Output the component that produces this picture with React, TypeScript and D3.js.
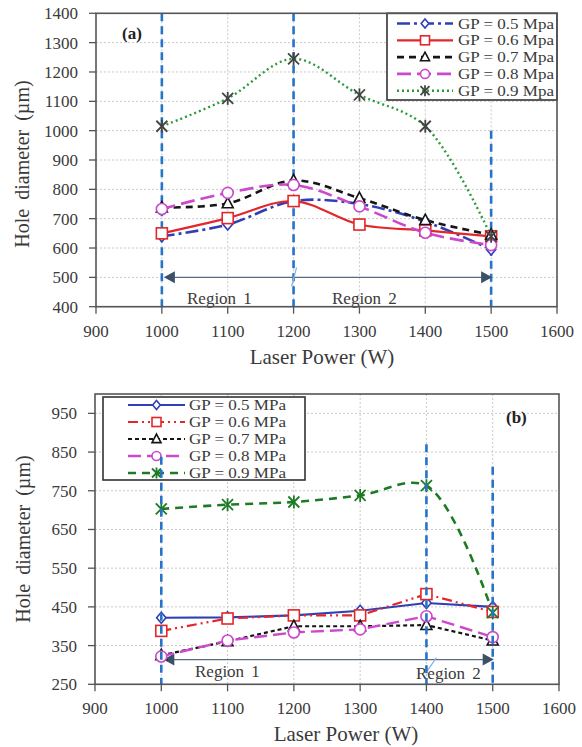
import React from 'react';
import * as d3 from 'd3';

// ---------- data ----------
const powers = [1000, 1100, 1200, 1300, 1400, 1500];
const xTicks = [900, 1000, 1100, 1200, 1300, 1400, 1500, 1600];
const aYTicks = [400, 500, 600, 700, 800, 900, 1000, 1100, 1200, 1300, 1400];
const bYTicks = [250, 350, 450, 550, 650, 750, 850, 950];

const aLabels = ['GP = 0.5 Mpa', 'GP = 0.6 Mpa', 'GP = 0.7 Mpa', 'GP = 0.8 Mpa', 'GP = 0.9 Mpa'];
const bLabels = ['GP = 0.5 MPa', 'GP = 0.6 MPa', 'GP = 0.7 MPa', 'GP = 0.8 MPa', 'GP = 0.9 MPa'];

const aGP05 = [640, 680, 760, 750, 690, 595];
const aGP06 = [650, 702, 760, 680, 660, 640];
const aGP07 = [738, 752, 830, 770, 695, 645];
const aGP08 = [733, 788, 815, 742, 652, 610];
const aGP09 = [1015, 1110, 1245, 1122, 1015, 640];

const bGP05 = [422, 423, 428, 440, 460, 450];
const bGP06 = [388, 420, 428, 428, 483, 437];
const bGP07 = [325, 361, 400, 400, 403, 363];
const bGP08 = [322, 363, 384, 392, 426, 372];
const bGP09 = [703, 714, 721, 738, 763, 435];

// region annotations: [power, top value]
const aRegionLines = [[1000, 1400], [1200, 1400], [1500, 1000]];
const bRegionLines = [[1000, 838], [1400, 870], [1500, 812]];
const aArrowValue = 500;
const bArrowValue = 314;
const regionNames = ['Region 1', 'Region 2'];
const axisXTitle = 'Laser Power (W)';
const axisYTitle = 'Hole diameter (\u00b5m)';

// ---------- styles ----------
const FONT = '"Liberation Serif", "Times New Roman", serif';
const TXT = '#3a3a3a';

type Style = { color: string; dash: string; width: number; marker: string; mcolor: string; smooth: boolean };

const aStyles: Style[] = [
  { color: '#3040b4', dash: '13,4,3,4', width: 2.6, marker: 'diamond', mcolor: '#3040b4', smooth: true },
  { color: '#e3262a', dash: '', width: 2.2, marker: 'square', mcolor: '#e3262a', smooth: true },
  { color: '#151515', dash: '7,5', width: 2.6, marker: 'triangle', mcolor: '#151515', smooth: true },
  { color: '#cc48cc', dash: '14,6', width: 2.6, marker: 'circle', mcolor: '#cc48cc', smooth: true },
  { color: '#2e9a3c', dash: '2,3', width: 2.4, marker: 'star', mcolor: '#444444', smooth: true },
];
const bStyles: Style[] = [
  { color: '#3040b4', dash: '', width: 2.2, marker: 'diamond', mcolor: '#3040b4', smooth: false },
  { color: '#e3262a', dash: '10,4,2,4,2,4', width: 2.2, marker: 'square', mcolor: '#e3262a', smooth: false },
  { color: '#151515', dash: '4,3', width: 2.2, marker: 'triangle', mcolor: '#151515', smooth: false },
  { color: '#cc48cc', dash: '13,6', width: 2.4, marker: 'circle', mcolor: '#cc48cc', smooth: false },
  { color: '#1e7b24', dash: '8,6', width: 2.6, marker: 'star', mcolor: '#1e7b24', smooth: true },
];

function Marker({ type, x, y, color, s = 5.5 }: { type: string; x: number; y: number; color: string; s?: number }) {
  const sw = 1.6;
  if (type === 'diamond')
    return <path d={`M${x},${y - s}L${x + s * 0.85},${y}L${x},${y + s}L${x - s * 0.85},${y}Z`} fill="white" stroke={color} strokeWidth={sw} />;
  if (type === 'square')
    return <rect x={x - s} y={y - s} width={2 * s} height={2 * s} fill="white" stroke={color} strokeWidth={sw} />;
  if (type === 'triangle')
    return <path d={`M${x},${y - s * 1.1}L${x + s},${y + s * 0.8}L${x - s},${y + s * 0.8}Z`} fill="white" stroke={color} strokeWidth={sw} />;
  if (type === 'circle')
    return <circle cx={x} cy={y} r={s} fill="white" stroke={color} strokeWidth={sw} />;
  // star: X plus vertical
  return (
    <g stroke={color} strokeWidth={1.8}>
      <line x1={x - s} y1={y - s} x2={x + s} y2={y + s} />
      <line x1={x - s} y1={y + s} x2={x + s} y2={y - s} />
      <line x1={x} y1={y - s - 1} x2={x} y2={y + s + 1} />
    </g>
  );
}

type PanelProps = {
  xr: [number, number];
  yd: [number, number];
  yr: [number, number];
  yTicks: number[];
  series: number[][];
  styles: Style[];
  labels: string[];
  legend: { x0: number; y0: number; x1: number; y1: number; row0: number; rowStep: number; lx0: number; lx1: number; tx: number; tw: number };
  regionLines: number[][];
  regionTopOver?: boolean;
  arrowValue: number;
  slash: number;
  slashPts: [number, number, number, number];
  regionText: { x: number; y: number }[];
  tag: string;
  tagPos: [number, number];
  xLabelY: number;
  xTitle: [number, number];
  yTitle: [number, number];
};

function Panel(p: PanelProps) {
  const x = d3.scaleLinear().domain([900, 1600]).range(p.xr);
  const y = d3.scaleLinear().domain(p.yd).range(p.yr);
  const [L, R] = p.xr;
  const [B, T] = p.yr;
  const lineGen = (smooth: boolean) =>
    d3
      .line<number>()
      .x((_, i) => x(powers[i]))
      .y((d) => y(d))
      .curve(smooth ? d3.curveCatmullRom.alpha(0.5) : d3.curveLinear);
  const ay = y(p.arrowValue);
  const ax0 = x(1000) + 2;
  const ax1 = x(1500) + 1;
  const lg = p.legend;
  const regionDash = (
    <g>
      {p.regionLines.map(([pw, top], i) => (
        <line key={i} x1={x(pw)} x2={x(pw)} y1={y(top)} y2={B} stroke="#2673c9" strokeWidth={2.6} strokeDasharray="8,5" />
      ))}
    </g>
  );
  return (
    <g>
      {/* grid */}
      <g stroke="#c9c9c9" strokeWidth={1} strokeDasharray="2,2">
        {p.yTicks.map((t) => (y(t) > T + 1 ? <line key={'gy' + t} x1={L} x2={R} y1={y(t)} y2={y(t)} /> : null))}
        {xTicks.slice(1, -1).map((t) => (
          <line key={'gx' + t} x1={x(t)} x2={x(t)} y1={T} y2={B} />
        ))}
      </g>
      {!p.regionTopOver && regionDash}
      {/* arrow */}
      <g>
        <line x1={ax0 + 6} x2={ax1 - 6} y1={ay} y2={ay} stroke="#5a6d80" strokeWidth={1.3} />
        <path d={`M${ax0},${ay}L${ax0 + 11},${ay - 6}L${ax0 + 11},${ay + 6}Z`} fill="#3d5166" />
        <path d={`M${ax1},${ay}L${ax1 - 11},${ay - 6}L${ax1 - 11},${ay + 6}Z`} fill="#3d5166" />
        <line
          x1={x(p.slash) + p.slashPts[0]}
          y1={ay + p.slashPts[1]}
          x2={x(p.slash) + p.slashPts[2]}
          y2={ay + p.slashPts[3]}
          stroke="#8db3e2"
          strokeWidth={1.3}
        />
      </g>
      {regionNames.map((r, i) => (
        <text key={r} x={p.regionText[i].x} y={p.regionText[i].y} fontFamily={FONT} fontSize={17} fill={TXT} wordSpacing={3}>
          {r}
        </text>
      ))}
      {/* series */}
      {p.series.map((s, i) => (
        <path
          key={'s' + i}
          d={lineGen(p.styles[i].smooth)(s) || ''}
          fill="none"
          stroke={p.styles[i].color}
          strokeWidth={p.styles[i].width}
          strokeDasharray={p.styles[i].dash || undefined}
        />
      ))}
      {p.series.map((s, i) =>
        s.map((v, j) => <Marker key={`m${i}-${j}`} type={p.styles[i].marker} x={x(powers[j])} y={y(v)} color={p.styles[i].mcolor} />)
      )}
      {/* legend */}
      <g>
        <rect x={lg.x0} y={lg.y0} width={lg.x1 - lg.x0} height={lg.y1 - lg.y0} fill="white" stroke="#333" strokeWidth={1.6} />
        {p.labels.map((lab, i) => {
          const ry = lg.row0 + i * lg.rowStep;
          const st = p.styles[i];
          return (
            <g key={lab}>
              <line x1={lg.lx0} x2={lg.lx1} y1={ry} y2={ry} stroke={st.color} strokeWidth={st.width} strokeDasharray={st.dash || undefined} />
              <Marker type={st.marker} x={(lg.lx0 + lg.lx1) / 2} y={ry} color={st.mcolor} s={4.5} />
              <text
                x={lg.tx}
                y={ry + 5}
                fontFamily={FONT}
                fontSize={14.5}
                fill={TXT}
                textLength={lg.tw}
                lengthAdjust="spacingAndGlyphs"
              >
                {lab}
              </text>
            </g>
          );
        })}
      </g>
      {p.regionTopOver && regionDash}
      {/* frame */}
      <rect x={L} y={T} width={R - L} height={B - T} fill="none" stroke="#555" strokeWidth={1.6} />
      {/* y ticks */}
      {p.yTicks.map((t) => (
        <g key={'yt' + t}>
          <line x1={L - 7} x2={L} y1={y(t)} y2={y(t)} stroke="#555" strokeWidth={1.3} />
          <text x={L - 18} y={y(t) + 6} textAnchor="end" fontFamily={FONT} fontSize={17} fill={TXT}>
            {t}
          </text>
        </g>
      ))}
      {xTicks.map((t) => (
        <g key={'xt' + t}>
          <line x1={x(t)} x2={x(t)} y1={B} y2={B + 7} stroke="#555" strokeWidth={1.3} />
          <text x={x(t)} y={p.xLabelY} textAnchor="middle" fontFamily={FONT} fontSize={17} fill={TXT}>
            {t}
          </text>
        </g>
      ))}
      <text x={p.xTitle[0]} y={p.xTitle[1]} textAnchor="middle" fontFamily={FONT} fontSize={21} fill={TXT}>
        {axisXTitle}
      </text>
      <text
        transform={`translate(${p.yTitle[0]},${p.yTitle[1]}) rotate(-90)`}
        textAnchor="middle"
        fontFamily={FONT}
        fontSize={20}
        fill={TXT}
        wordSpacing={4}
      >
        {axisYTitle}
      </text>
      <text x={p.tagPos[0]} y={p.tagPos[1]} fontFamily={FONT} fontSize={17} fontWeight="bold" fill="#222">
        {p.tag}
      </text>
    </g>
  );
}

export default function App() {
  return (
    <svg width={582} height={747} style={{ position: 'absolute', left: 0, top: 0, background: 'white' }}>
      <Panel
        xr={[96, 557]}
        yd={[400, 1400]}
        yr={[306.7, 13.3]}
        yTicks={aYTicks}
        series={[aGP05, aGP06, aGP07, aGP08, aGP09]}
        styles={aStyles}
        labels={aLabels}
        legend={{ x0: 387, y0: 13.3, x1: 557, y1: 100, row0: 23.5, rowStep: 16.8, lx0: 397, lx1: 453, tx: 458, tw: 96 }}
        regionLines={aRegionLines}
        arrowValue={aArrowValue}
        slash={1200}
        slashPts={[-2, 9, 3, -10]}
        regionText={[{ x: 187, y: 304 }, { x: 332, y: 304 }]}
        tag="(a)"
        tagPos={[122, 39]}
        xLabelY={337}
        xTitle={[322, 364]}
        yTitle={[29, 164]}
      />
      <Panel
        xr={[95, 559]}
        yd={[250, 1000]}
        yr={[684.3, 394]}
        yTicks={bYTicks}
        series={[bGP05, bGP06, bGP07, bGP08, bGP09]}
        styles={bStyles}
        labels={bLabels}
        legend={{ x0: 103, y0: 397, x1: 305, y1: 480, row0: 405, rowStep: 17, lx0: 128, lx1: 185, tx: 189, tw: 97 }}
        regionLines={bRegionLines}
        regionTopOver={true}
        arrowValue={bArrowValue}
        slash={1400}
        slashPts={[1, 11, 10, -2]}
        regionText={[{ x: 195, y: 677 }, { x: 416, y: 679 }]}
        tag="(b)"
        tagPos={[506, 423]}
        xLabelY={714}
        xTitle={[346, 741]}
        yTitle={[30, 539]}
      />
    </svg>
  );
}
